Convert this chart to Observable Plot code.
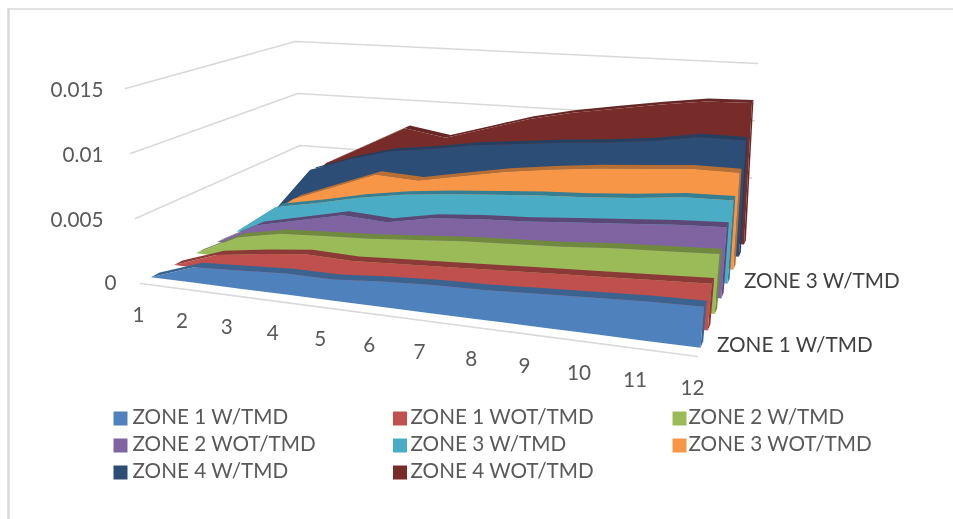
<!DOCTYPE html>
<html>
<head>
<meta charset="utf-8">
<script src="https://cdn.jsdelivr.net/npm/d3@7"></script>
<script src="https://cdn.jsdelivr.net/npm/@observablehq/plot@0.6"></script>
<style>
html,body{margin:0;padding:0;background:#fff}
svg{display:block;filter:blur(0.45px)}
</style>
</head>
<body>
<div id="chart"></div>
<script>
const months = [1,2,3,4,5,6,7,8,9,10,11,12];
const seriesNames = ["ZONE 1 W/TMD","ZONE 1 WOT/TMD","ZONE 2 W/TMD","ZONE 2 WOT/TMD","ZONE 3 W/TMD","ZONE 3 WOT/TMD","ZONE 4 W/TMD","ZONE 4 WOT/TMD"];
const zone1W  = [0,.0012,.0014,.0016,.0016,.0019,.0021,.0022,.0024,.0026,.0028,.0029];
const zone1WO = [0,.0012,.0017,.0021,.0020,.0022,.0024,.0026,.0028,.0030,.0032,.0034];
const zone2W  = [0,.0017,.0024,.0026,.0028,.0031,.0034,.0036,.0038,.0041,.0043,.0045];
const zone2WO = [0,.0018,.0026,.0034,.0032,.0039,.0042,.0044,.0047,.0050,.0053,.0055];
const zone3W  = [0,.0025,.0032,.0040,.0046,.0050,.0053,.0056,.0058,.0061,.0065,.0066];
const zone3WO = [0,.0024,.0038,.0052,.0050,.0057,.0064,.0069,.0073,.0076,.0079,.0079];
const zone4W  = [0,.0042,.0055,.0065,.0070,.0076,.0080,.0084,.0087,.0091,.0097,.0097];
const zone4WO = [0,.0041,.0060,.0079,.0073,.0084,.0095,.0103,.0109,.0115,.0120,.0121];
const seriesValues = [zone1W,zone1WO,zone2W,zone2WO,zone3W,zone3WO,zone4W,zone4WO];
const faceColors = ["#4F81BD","#C0504D","#9BBB59","#8064A2","#4BACC6","#F79646","#2C4D75","#772C2A"];
const topColors  = ["#3A6390","#8C3A38","#6F8A3E","#5C4876","#367F93","#B86F33","#253F60","#662725"];
const valueTicks = [0,0.005,0.01,0.015];
const valueLabels = ["0","0.005","0.01","0.015"];
const depthLabels = [[0,"ZONE 1 W/TMD"],[4,"ZONE 3 W/TMD"]];

// Camera: floor corners and the lift of the top plane (value = vmax)
const vmax = 0.015;
const FL=[140,283], FR=[697,356], BR=[748,235], BL=[302,197];
const liftFL=[-15,-195], liftFR=[20,-215], liftBR=[9,-172], liftBL=[-7,-156];
const lerp=(a,b,t)=>a+(b-a)*t;
const mix=(p,q,t)=>[lerp(p[0],q[0],t),lerp(p[1],q[1],t)];
function project(m,w,v){
  const u=(m-1)/11;
  const k=lerp(0.138,0.07,w);
  const uu=u-k*u*(1-u);
  const ww=w+0.24*w*(1-w);
  const floor=mix(mix(FL,FR,uu),mix(BL,BR,uu),ww);
  const lift=mix(mix(liftFL,liftFR,uu),mix(liftBL,liftBR,uu),ww);
  const t=v/vmax;
  return [floor[0]+lift[0]*t,floor[1]+lift[1]*t];
}
const frontW=i=>0.055+0.1207*i;
const slabDepth=0.045;

const marks=[];
// frame of the chart
marks.push(Plot.ruleX([8],{y1:8,y2:519,stroke:"#d9d9d9",strokeWidth:2.5}));
marks.push(Plot.ruleY([8.5],{x1:8,x2:953,stroke:"#d9d9d9",strokeWidth:1.5}));

// wall gridlines
for(const v of valueTicks.slice(1)){
  const pts=[project(1,0,v),project(1,1,v),project(12,1,v)];
  marks.push(Plot.line(pts,{x:d=>d[0],y:d=>d[1],stroke:"#d9d9d9",strokeWidth:1.6}));
}
{
  const pts=[project(1,0,0),project(12,0,0)];
  marks.push(Plot.line(pts,{x:d=>d[0],y:d=>d[1],stroke:"#d9d9d9",strokeWidth:1.6}));
}

const areaOf=(rows,fill)=>Plot.area(rows,{x1:"x1",y1:"y1",x2:"x2",y2:"y2",fill,curve:"linear"});
for(let i=7;i>=0;i--){
  const vals=seriesValues[i], wf=frontW(i), wb=wf+slabDepth;
  const row=(a,b)=>({x1:a[0],y1:a[1],x2:b[0],y2:b[1]});
  const side=[row(project(12,wf,vals[11]),project(12,wf,0)),row(project(12,wb,vals[11]),project(12,wb,0))];
  marks.push(areaOf(side,topColors[i]));
  marks.push(areaOf(months.map((m,j)=>row(project(m,wb,vals[j]),project(m,wf,vals[j]))),topColors[i]));
  marks.push(areaOf(months.map((m,j)=>row(project(m,wf,vals[j]),project(m,wf,0))),faceColors[i]));
}

const FONT="Lato";
const textOpts={fontFamily:FONT,fontSize:20.7,fill:"#595959"};
// value axis labels
marks.push(Plot.text(valueTicks,{
  x:d=>d===0?116:103,
  y:d=>project(1,0,d)[1]+(d===0?0:1.5),
  text:(d,i)=>valueLabels[i],textAnchor:"end",...textOpts}));
// month labels
marks.push(Plot.text(months,{
  x:d=>project(d,-0.14,0)[0]+lerp(27,4,(d-1)/11),
  y:d=>project(d,-0.14,0)[1]+lerp(17,10,(d-1)/11),
  text:d=>String(d),...textOpts}));
// depth labels
marks.push(Plot.text(depthLabels,{
  x:d=>project(12,frontW(d[0]),0)[0]+16,
  y:d=>project(12,frontW(d[0]),0)[1]-3,
  text:d=>d[1],textAnchor:"start",...textOpts,fill:"#404040"}));
// legend
const legendRows=seriesNames.map((name,i)=>({name,color:faceColors[i],col:i%3,row:Math.floor(i/3)}));
marks.push(Plot.dot(legendRows,{
  x:d=>120+d.col*279.5,y:d=>418+d.row*27,
  symbol:"square",r:7.9,fill:"color",stroke:null}));
marks.push(Plot.text(legendRows,{
  x:d=>132+d.col*278,y:d=>417+d.row*27,
  text:"name",textAnchor:"start",...textOpts}));

const plot=Plot.plot({
  width:953,height:519,margin:0,
  style:{background:"#fff"},
  x:{domain:[0,953],range:[0,953],axis:null},
  y:{domain:[0,519],range:[0,519],axis:null},
  marks
});
document.getElementById("chart").appendChild(plot);
</script>
</body>
</html>
